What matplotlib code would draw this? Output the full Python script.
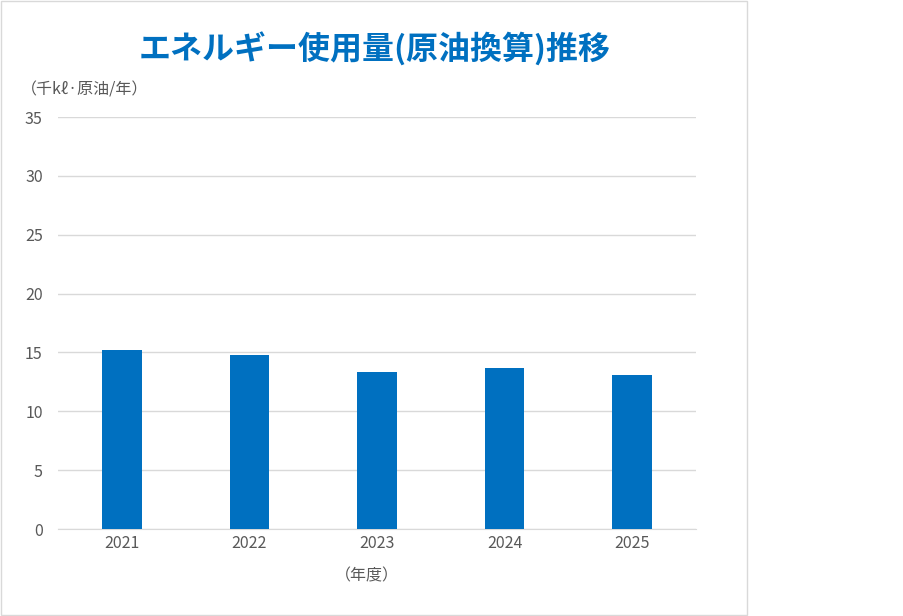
import matplotlib
matplotlib.use("Agg")
import matplotlib.pyplot as plt
from matplotlib.patches import Rectangle

plt.rcParams['font.family'] = ['Noto Sans CJK JP', 'DejaVu Sans']

years = ["2021", "2022", "2023", "2024", "2025"]
values = [15.2, 14.8, 13.3, 13.7, 13.1]
yticks = [0, 5, 10, 15, 20, 25, 30, 35]
title = "エネルギー使用量(原油換算)推移"
ylabel = "（千kℓ·原油/年）"
xlabel = "（年度）"

W, H = 904, 616
fig = plt.figure(figsize=(W / 100, H / 100), dpi=100)
fig.patch.set_facecolor("white")

# panel border
fig.add_artist(Rectangle((0.5 / W, 1 - 615 / H), 747 / W, 614 / H,
                         transform=fig.transFigure, fill=False,
                         edgecolor="#d9d9d9", linewidth=1.0))

ax = fig.add_axes([58 / W, 1 - 529 / H, (696 - 58) / W, (529 - 117) / H])
x = range(len(years))
ax.bar(x, values, width=0.31, color="#0070C0", zorder=3)
ax.set_xlim(-0.5, len(years) - 0.5)
ax.set_ylim(0, 35)
ax.set_yticks(yticks)
ax.set_xticks(list(x))
ax.set_xticklabels(years)
ax.yaxis.grid(True, color="#d9d9d9", linewidth=1.0, zorder=0)
for s in ["top", "right", "left"]:
    ax.spines[s].set_visible(False)
ax.spines["bottom"].set_color("#d9d9d9")
ax.tick_params(axis="both", length=0, colors="#595959", labelsize=11.5)
ax.tick_params(axis="y", pad=11)
ax.tick_params(axis="x", pad=4)

fig.text(375 / W, 1 - 50 / H, title, ha="center", va="center",
         fontsize=23, fontweight="bold", color="#0070C0")
fig.text(21 / W, 1 - 90 / H, ylabel, ha="left", va="center",
         fontsize=11.5, color="#595959")
fig.text(367 / W, 1 - 576 / H, xlabel, ha="center", va="center",
         fontsize=11.5, color="#595959")

fig.savefig("out.png", dpi=100, facecolor="white")
